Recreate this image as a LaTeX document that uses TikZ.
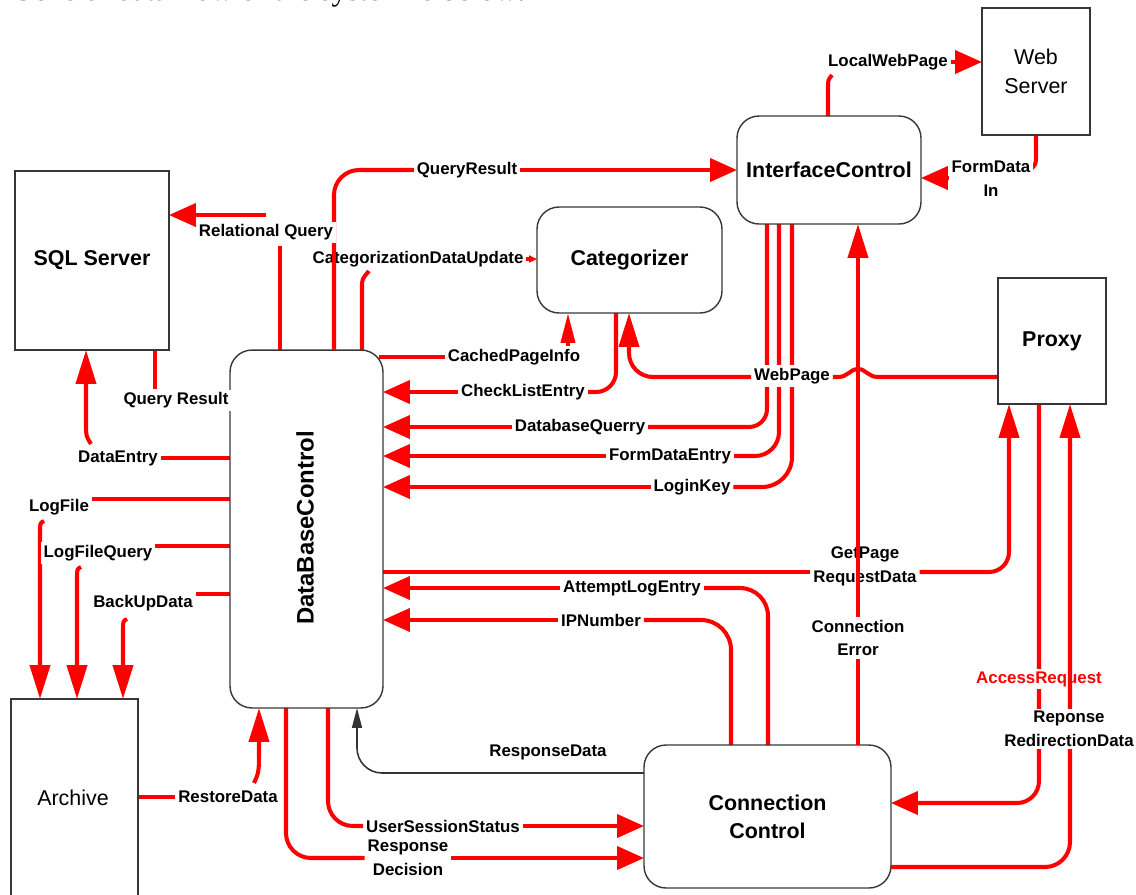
\documentclass[tikz,border=0pt]{standalone}
\usepackage{fontspec}
\setmainfont{Liberation Sans}
\newfontfamily\serifface{Liberation Serif}
\usetikzlibrary{arrows.meta,calc}
\pgfdeclarelayer{bg}
\pgfsetlayers{bg,main}
\definecolor{flowred}{RGB}{255,0,0}
\definecolor{boxline}{RGB}{55,55,55}
\newcommand\lblfont{\fontsize{9.6}{13.6}\selectfont\bfseries}
\newcommand\ttlfont{\fontsize{12.2}{16}\selectfont\bfseries}
\newcommand\regfont{\fontsize{12.2}{16.4}\selectfont}
\newcommand\dbfont{\fontsize{13.6}{16}\selectfont\bfseries}
\begin{document}
\begin{tikzpicture}[x=0.02cm,y=-0.02cm,
  box/.style={draw=boxline, line width=0.8pt, inner sep=0pt, outer sep=0pt, align=center, font=\ttlfont},
  rbox/.style={box, rounded corners=0.44cm},
  lbl/.style={fill=white, inner sep=1.5pt, align=center, font=\lblfont},
  flow/.style={draw=flowred, line width=2.3pt},
  blk/.style={draw=black!80, line width=0.9pt},
  harr/.style={-{Triangle[length=0.54cm,width=0.46cm]}},
  varr/.style={-{Triangle[length=0.68cm,width=0.40cm]}},
  narr/.style={-{Triangle[length=0.60cm,width=0.28cm]}},
  tarr/.style={-{Triangle[length=0.16cm,width=0.14cm]}},
  barr/.style={-{Triangle[length=0.40cm,width=0.20cm]}}
]
\useasboundingbox (0,0) rectangle (1136,894);
\node[anchor=base west, inner sep=0pt, font=\serifface\fontsize{17.6}{20}\selectfont] (cap) at (11,0.4) {General data flow of the system is below:};

% boxes
\node[box, minimum width=3.08cm, minimum height=3.58cm] (sql) at (92,260.5) {SQL Server};
\node[rbox, minimum width=3.06cm, minimum height=7.16cm] (db) at (306.5,529) {};
\node[font=\dbfont, rotate=90] (dbl) at (305,528) {DataBaseControl};
\node[rbox, minimum width=3.70cm, minimum height=2.12cm] (cat) at (629.5,260) {Categorizer};
\node[rbox, minimum width=3.68cm, minimum height=2.16cm] (ic) at (829,170) {InterfaceControl};
\node[box, font=\regfont, minimum width=2.16cm, minimum height=2.54cm] (ws) at (1036,71.5) {Web\\Server};
\node[box, minimum width=2.16cm, minimum height=2.52cm] (proxy) at (1052,341) {Proxy};
\node[box, minimum width=2.54cm, minimum height=4.24cm] (arch) at (74.5,805) {};
\node[font=\regfont] (archl) at (73,798) {Archive};
\node[rbox, minimum width=4.94cm, minimum height=2.86cm] (cc) at (767.5,816.5) {Connection\\Control};

% labels
\node[lbl] (lQRa) at (176,400) {Query Result};
\node[lbl] (lQRb) at (467,170) {QueryResult};
\node[lbl] (lCDU) at (418,259) {CategorizationDataUpdate};
\node[lbl] (lCPI) at (514,357) {CachedPageInfo};
\node[lbl] (lCLE) at (523,392) {CheckListEntry};
\node[lbl] (lWP) at (792,376) {WebPage};
\node[lbl] (lDBQ) at (580,427) {DatabaseQuerry};
\node[lbl] (lFDE) at (670,456) {FormDataEntry};
\node[lbl] (lLK) at (692,487) {LoginKey};
\node[lbl] (lGP) at (865,566) {GetPage\\RequestData};
\node[lbl] (lALE) at (632,588) {AttemptLogEntry};
\node[lbl] (lIP) at (601,620) {IPNumber};
\node[lbl, text=flowred] (lAR) at (1039,679) {AccessRequest};
\node[lbl] (lRD) at (548,752) {ResponseData};
\node[lbl] (lUSS) at (443,826) {UserSessionStatus};
\node[lbl] (lRDec) at (408,858) {Response\\Decision};
\node[lbl] (lRest) at (228,797) {RestoreData};
\node[lbl] (lDE) at (118,458) {DataEntry};
\node[lbl] (lLF) at (59,507) {LogFile};
\node[lbl] (lLFQ) at (98,553) {LogFileQuery};
\node[lbl] (lBU) at (143,603) {BackUpData};
\node[lbl] (lLWP) at (888,62) {LocalWebPage};
\node[lbl] (lFDI) at (991,179) {FormData\\In};

\begin{pgfonlayer}{bg}
% Relational Query
\draw[flow] (db.north -| 280,0) -- (280,246);
\draw[flow,harr] (266,215) -- (sql.east |- 0,215);
% Query Result
\draw[flow] (sql.south -| 155,0) -- (lQRa.north -| 155,0);
% CategorizationDataUpdate
\draw[flow] (db.north -| 362,0) -- (362,288) .. controls (362,279) .. (369,271);
\draw[flow,tarr] (lCDU.east) -- (cat.west |- lCDU.east);
% CachedPageInfo
\draw[flow] (379,357) -- (lCPI.west);
\draw[flow,narr] (lCPI.north -| 568,0) -- (cat.south -| 568,0);
% CheckListEntry
\draw[flow,rounded corners=0.4cm] (cat.south -| 616,0) |- (lCLE.east);
\draw[flow,harr] (lCLE.west) -- (db.east |- lCLE.west);
% WebPage
\draw[flow] (proxy.west |- 0,377) -- (878,377) .. controls (868,377) and (866,369) .. (858,369) .. controls (850,369) and (848,377) .. (838,377) -- (lWP.east |- 0,377);
\draw[flow,rounded corners=0.48cm,varr] (lWP.west |- 0,377) -| (cat.south -| 629,0);
% from InterfaceControl
\draw[flow,rounded corners=0.36cm] (ic.south -| 767,0) |- (lDBQ.east);
\draw[flow,harr] (lDBQ.west) -- (db.east |- lDBQ.west);
\draw[flow,rounded corners=0.48cm] (ic.south -| 779,0) |- (lFDE.east);
\draw[flow,harr] (lFDE.west) -- (db.east |- lFDE.west);
\draw[flow,rounded corners=0.6cm] (ic.south -| 792,0) |- (lLK.east);
\draw[flow,harr] (lLK.west) -- (db.east |- lLK.west);
% GetPage RequestData
\draw[flow] (db.east |- 0,572) -- (lGP.west |- 0,572);
\draw[flow,rounded corners=0.4cm,varr] (lGP.east |- 0,572) -| (proxy.south -| 1009,0);
% AttemptLogEntry, IPNumber
\draw[flow,rounded corners=0.56cm] (cc.north -| 768,0) |- (lALE.east);
\draw[flow,harr] (lALE.west) -- (db.east |- lALE.west);
\draw[flow,rounded corners=0.6cm] (cc.north -| 731,0) |- (lIP.east);
\draw[flow,harr] (lIP.west) -- (db.east |- lIP.west);
% AccessRequest
\draw[flow,rounded corners=0.44cm,harr] (proxy.south -| 1039,0) |- (cc.east |- 0,803);
% ResponseData
\draw[blk,rounded corners=0.5cm,barr] (cc.west |- 0,773) -| (db.south -| 357,0);
% UserSessionStatus
\draw[flow,rounded corners=0.5cm] (db.south -| 328,0) |- (lUSS.west);
\draw[flow,harr] (lUSS.east) -- (cc.west |- lUSS.east);
% Response Decision
\draw[flow,rounded corners=0.5cm] (db.south -| 286,0) |- (lRDec.west |- 0,858);
\draw[flow,harr] (lRDec.east |- 0,858) -- (cc.west |- 0,858);
% RestoreData
\draw[flow] (arch.east |- 0,797) -- (lRest.west |- 0,797);
\draw[flow,varr] (254,783) .. controls (259,772) .. (259,748) -- (db.south -| 259,0);
% DataEntry
\draw[flow] (db.west |- 0,458) -- (lDE.east |- 0,458);
\draw[flow,varr] (91,444) .. controls (86,436) .. (86,424) -- (sql.south -| 86,0);
% LogFile, LogFileQuery, BackUpData
\draw[flow] (db.west |- 0,499) -- (lLF.east |- 0,499);
\draw[flow,varr] (44,521) .. controls (40,523) .. (40,532) -- (arch.north -| 40,0);
\draw[flow] (db.west |- 0,546) -- (lLFQ.east |- 0,546);
\draw[flow,varr] (81,567) .. controls (77,569) .. (77,578) -- (arch.north -| 77,0);
\draw[flow] (db.west |- 0,594) -- (lBU.east |- 0,594);
\draw[flow,varr] (127,619) .. controls (123,621) .. (123,630) -- (arch.north -| 123,0);
% LocalWebPage
\draw[flow] (ic.north -| 828,0) -- (828,88) .. controls (828,80) .. (832,75);
\draw[flow,harr] (lLWP.east) -- (ws.west |- lLWP.east);
% FormData In
\draw[flow] (ws.south -| 1036,0) -- (1036,156) .. controls (1036,164) .. (1031,169);
\draw[flow,harr] (lFDI.west |- 0,178) -- (ic.east |- 0,178);
\end{pgfonlayer}

% QueryResult (over CategorizationDataUpdate label, under Relational Query label)
\draw[flow,rounded corners=0.5cm] (db.north -| 334,0) |- (lQRb.west);
\draw[flow,harr] (lQRb.east) -- (ic.west |- lQRb.east);
\node[lbl] (lRelQ) at (266,232) {Relational Query};
% Connection Error
\draw[flow,varr] (cc.north -| 858,0) -- (ic.south -| 858,0);
\node[lbl] (lCE) at (858,638) {Connection\\Error};
% Reponse RedirectionData
\draw[flow,rounded corners=0.5cm,varr] (cc.east |- 0,867) -| (proxy.south -| 1070,0);
\node[lbl] (lRR) at (1069,729) {Reponse\\RedirectionData};
\end{tikzpicture}
\end{document}
